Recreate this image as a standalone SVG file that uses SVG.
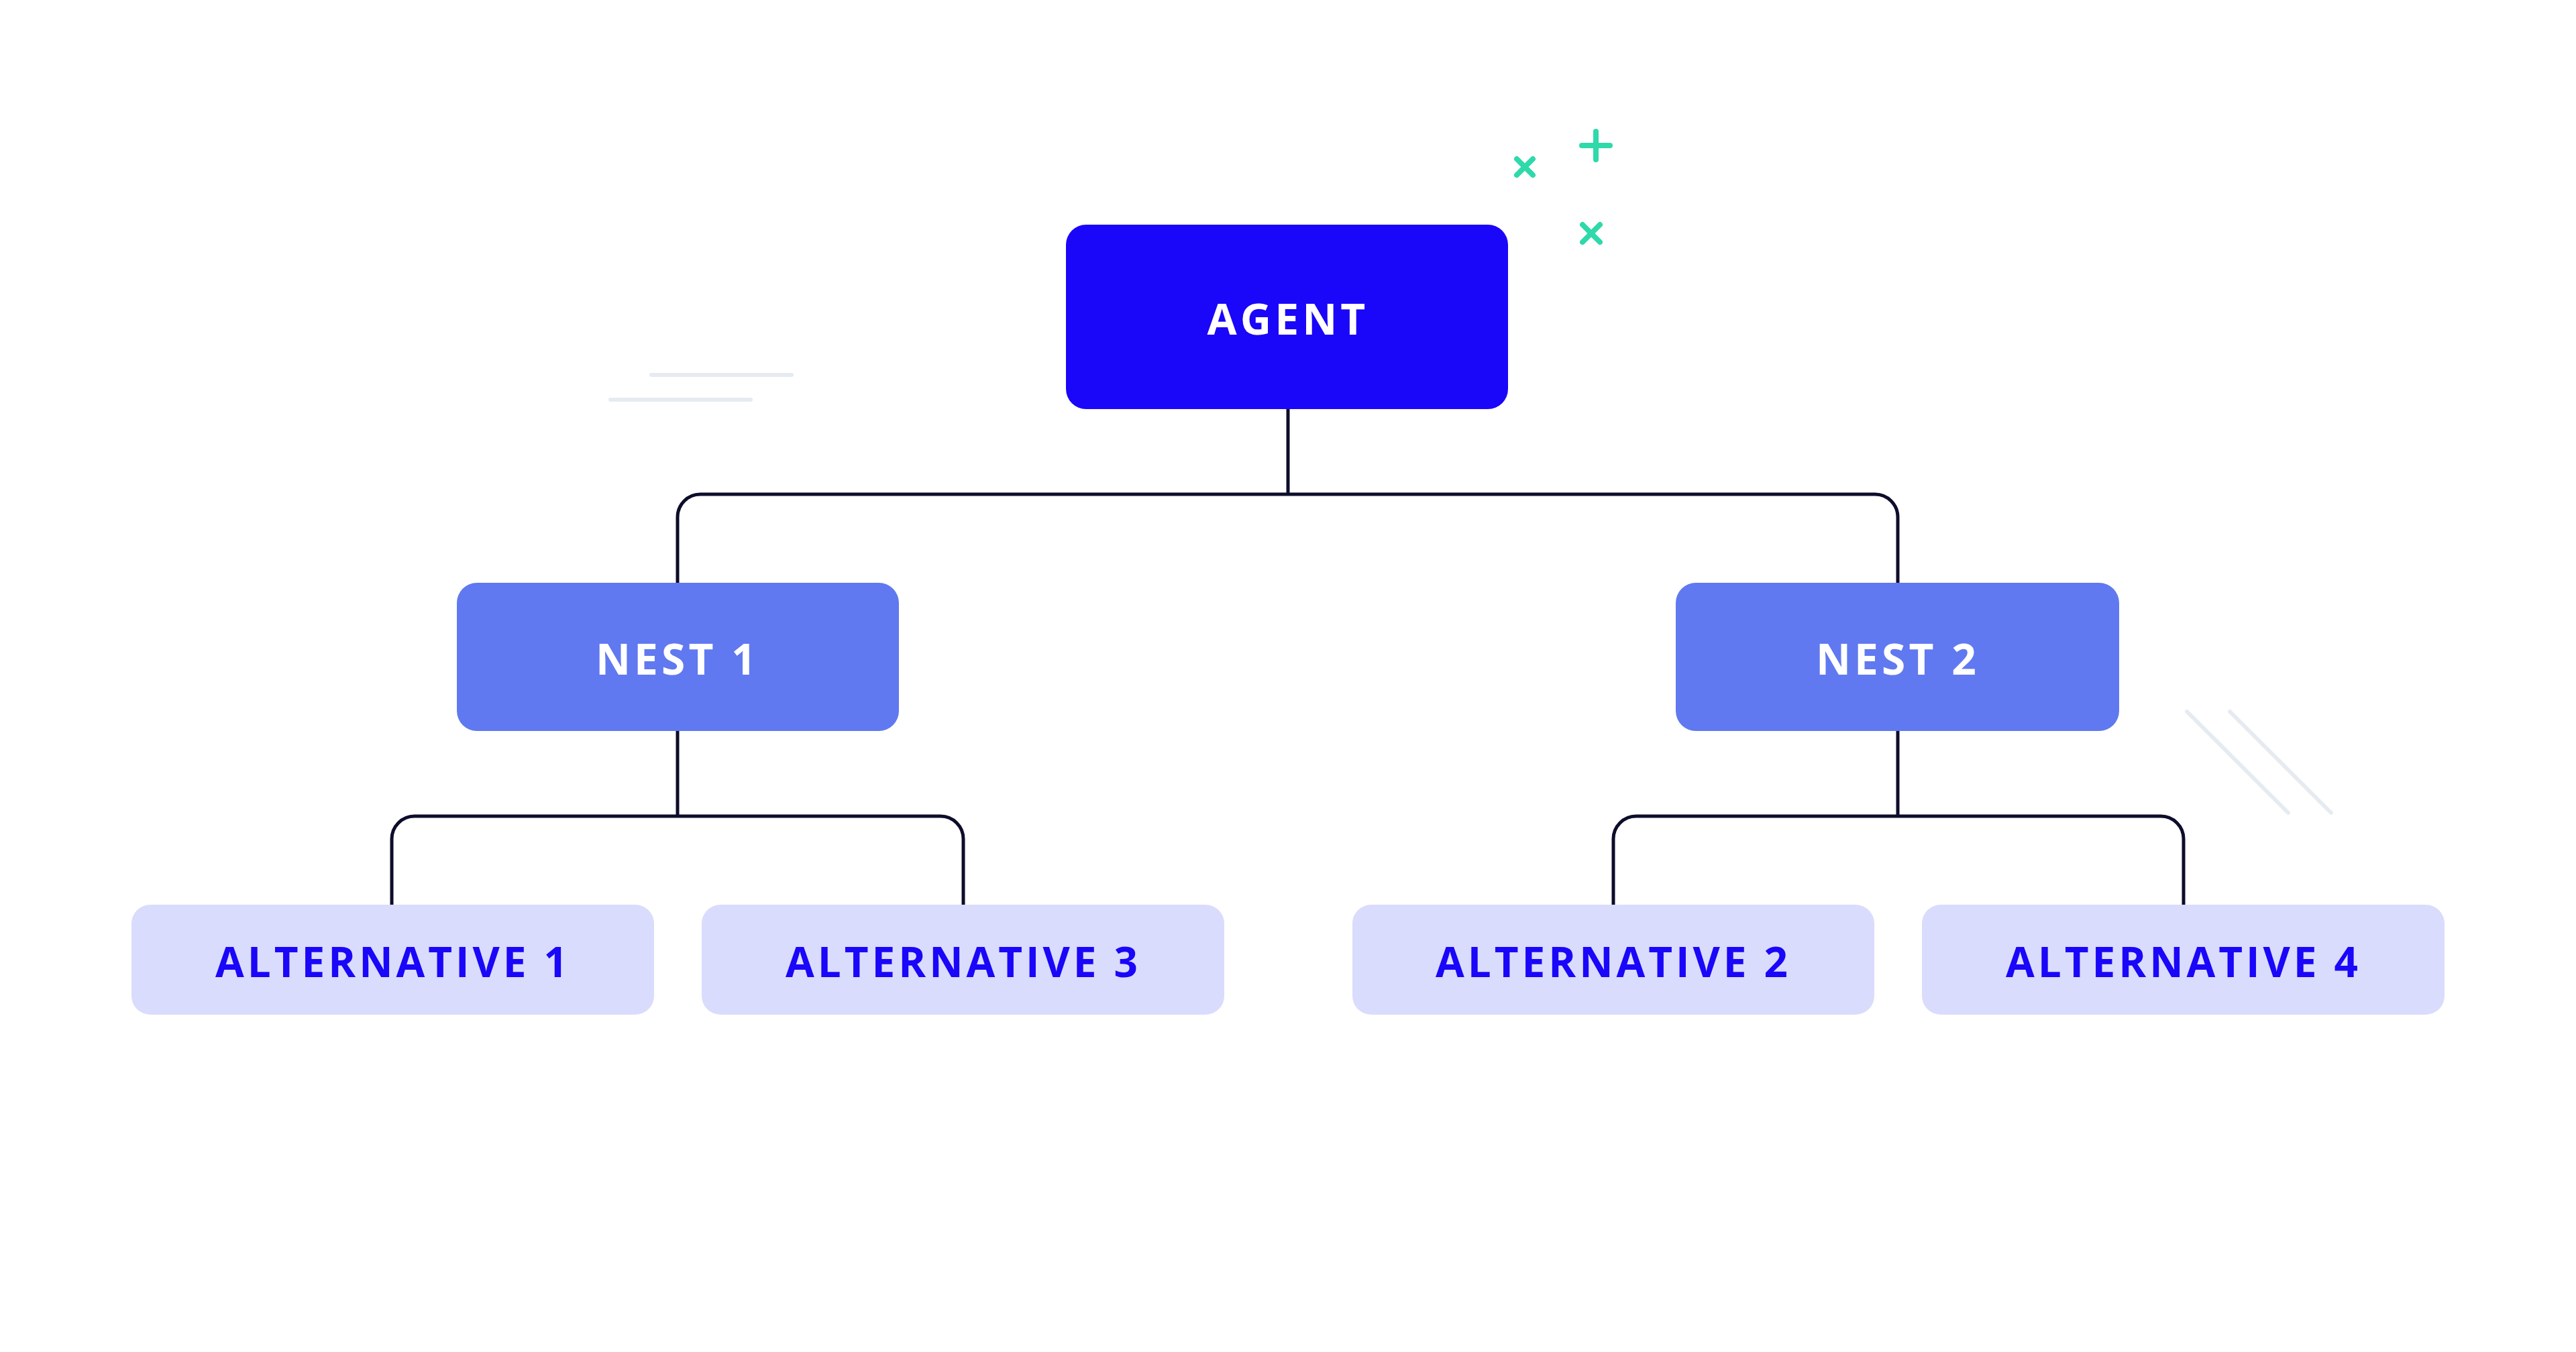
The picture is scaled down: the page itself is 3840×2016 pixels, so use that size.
<svg xmlns="http://www.w3.org/2000/svg" width="3840" height="2016" viewBox="0 0 3840 2016">
<style>
.t{font-family:"Open Sans","Noto Sans",sans-serif;font-weight:700;text-anchor:middle;dominant-baseline:central;letter-spacing:0.08em}
.w{fill:#ffffff;font-size:64px}
.a{fill:#1a06f8;font-size:62px}
.c{fill:none;stroke:#0d0d2b;stroke-width:5}
.g{stroke:#2fd9a9;stroke-width:8;stroke-linecap:round}
.d{stroke:#e6ebf1;stroke-width:6;stroke-linecap:round}
</style>
<rect width="3840" height="2016" fill="#ffffff"/>
<g id="decor">
<line class="d" x1="971" y1="559" x2="1180" y2="559"/>
<line class="d" x1="910" y1="596" x2="1119" y2="596"/>
<line class="d" x1="3260" y1="1061" x2="3411" y2="1212"/>
<line class="d" x1="3324" y1="1061" x2="3475" y2="1212"/>
<path class="g" d="M2261 237l24 24M2285 237l-24 24"/>
<path class="g" d="M2379 196v42M2358 217h42"/>
<path class="g" d="M2359 335l26 26M2385 335l-26 26"/>
</g>
<g id="connectors">
<path class="c" d="M1920 610V737"/>
<path class="c" d="M1010 869V771a34 34 0 0 1 34-34H2795a34 34 0 0 1 34 34V869"/>
<path class="c" d="M1010 1090V1217"/>
<path class="c" d="M584 1349V1251a34 34 0 0 1 34-34H1402a34 34 0 0 1 34 34V1349"/>
<path class="c" d="M2829 1090V1217"/>
<path class="c" d="M2405 1349V1251a34 34 0 0 1 34-34H3221a34 34 0 0 1 34 34V1349"/>
</g>
<g id="agent"><rect x="1589" y="335" width="659" height="275" rx="30" fill="#1a06f8"/><text class="t w" x="1920" y="474">AGENT</text></g>
<g id="nest1"><rect x="681" y="869" width="659" height="221" rx="30" fill="#6079f0"/><text class="t w" x="1010" y="981">NEST 1</text></g>
<g id="nest2"><rect x="2498" y="869" width="661" height="221" rx="30" fill="#6079f0"/><text class="t w" x="2829" y="981">NEST 2</text></g>
<g id="alt1"><rect x="196" y="1349" width="779" height="164" rx="28" fill="#d9dcfc"/><text class="t a" x="586" y="1433">ALTERNATIVE 1</text></g>
<g id="alt3"><rect x="1046" y="1349" width="779" height="164" rx="28" fill="#d9dcfc"/><text class="t a" x="1436" y="1433">ALTERNATIVE 3</text></g>
<g id="alt2"><rect x="2016" y="1349" width="778" height="164" rx="28" fill="#d9dcfc"/><text class="t a" x="2405" y="1433">ALTERNATIVE 2</text></g>
<g id="alt4"><rect x="2865" y="1349" width="779" height="164" rx="28" fill="#d9dcfc"/><text class="t a" x="3255" y="1433">ALTERNATIVE 4</text></g>
</svg>
